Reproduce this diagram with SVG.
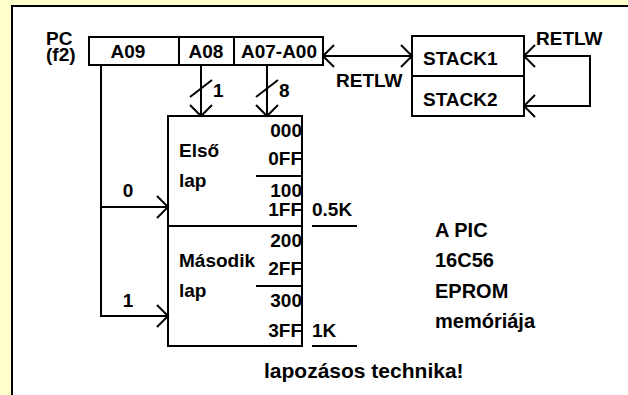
<svg xmlns="http://www.w3.org/2000/svg" width="628" height="395" viewBox="0 0 628 395">
<style>
text{font-family:"Liberation Sans",Arial,sans-serif;font-weight:bold;font-size:19px;fill:#000}
.e{text-anchor:end}
.m{text-anchor:middle}
.r{font-size:20px}
.c{font-size:21px}
.ln{fill:none;stroke:#000;stroke-width:2}
.bx{fill:#fff;stroke:#000;stroke-width:2}
</style>
<defs>
<marker id="ah" viewBox="-12 -12 14 24" markerWidth="14" markerHeight="24" refX="0" refY="0" markerUnits="userSpaceOnUse" orient="auto-start-reverse">
<path d="M-11,-11 L0,0 L-11,11" fill="none" stroke="#000" stroke-width="2"/>
</marker>
</defs>
<rect x="0" y="0" width="628" height="395" fill="#ffffcc"/>
<rect x="12" y="6" width="630" height="400" fill="#fff" stroke="#000" stroke-width="2"/>
<g id="pc-label">
<text x="46" y="45">PC</text>
<text x="46" y="61">(f2)</text>
</g>
<g id="pc-register">
<rect class="bx" x="89" y="37" width="234" height="28"/>
<line class="ln" x1="179" y1="37" x2="179" y2="65"/>
<line class="ln" x1="234" y1="37" x2="234" y2="65"/>
<text class="m" x="128" y="58">A09</text>
<text class="m" x="206" y="58">A08</text>
<text class="m" x="279" y="58">A07-A00</text>
</g>
<g id="stack">
<rect class="bx" x="412" y="36" width="112" height="80"/>
<line class="ln" x1="412" y1="76" x2="524" y2="76"/>
<text x="423" y="65">STACK1</text>
<text x="423" y="106">STACK2</text>
</g>
<g id="memory">
<rect class="bx" x="168" y="116" width="134" height="230"/>
<line class="ln" x1="168" y1="226" x2="302" y2="226"/>
<line class="ln" x1="256" y1="176" x2="302" y2="176"/>
<line class="ln" x1="256" y1="286" x2="302" y2="286"/>
<text x="179" y="157">Első</text>
<text x="179" y="187">lap</text>
<text x="179" y="267">Második</text>
<text x="179" y="297">lap</text>
<text class="e" x="302" y="137">000</text>
<text class="e" x="302" y="165">0FF</text>
<text class="e" x="302" y="197">100</text>
<text class="e" x="302" y="216">1FF</text>
<text class="e" x="302" y="247">200</text>
<text class="e" x="302" y="275">2FF</text>
<text class="e" x="302" y="307">300</text>
<text class="e" x="302" y="337">3FF</text>
</g>
<g id="sizes">
<text x="312" y="216">0.5K</text>
<line class="ln" x1="312" y1="226" x2="357" y2="226"/>
<text x="312" y="337">1K</text>
<line class="ln" x1="312" y1="346" x2="357" y2="346"/>
</g>
<g id="connectors">
<polyline class="ln" points="101,65 101,316 168,316" marker-end="url(#ah)"/>
<line class="ln" x1="101" y1="207" x2="168" y2="207" marker-end="url(#ah)"/>
<line class="ln" x1="201" y1="65" x2="201" y2="116" marker-end="url(#ah)"/>
<line class="ln" x1="190" y1="97" x2="212" y2="80"/>
<line class="ln" x1="267" y1="65" x2="267" y2="116" marker-end="url(#ah)"/>
<line class="ln" x1="256" y1="97" x2="278" y2="80"/>
<line class="ln" x1="323" y1="56" x2="412" y2="56" marker-start="url(#ah)" marker-end="url(#ah)"/>
<polyline class="ln" points="524,56 590,56 590,106 524,106" marker-start="url(#ah)" marker-end="url(#ah)"/>
<text x="213" y="97">1</text>
<text x="279" y="97">8</text>
<text class="m" x="128" y="197">0</text>
<text class="m" x="128" y="307">1</text>
<text x="336" y="87">RETLW</text>
<text x="536" y="45">RETLW</text>
</g>
<g id="caption">
<text class="r" x="435" y="237">A PIC</text>
<text class="r" x="435" y="267">16C56</text>
<text class="r" x="435" y="298">EPROM</text>
<text class="r" x="435" y="328">memóriája</text>
<text class="c" x="264" y="378">lapozásos technika!</text>
</g>
</svg>
